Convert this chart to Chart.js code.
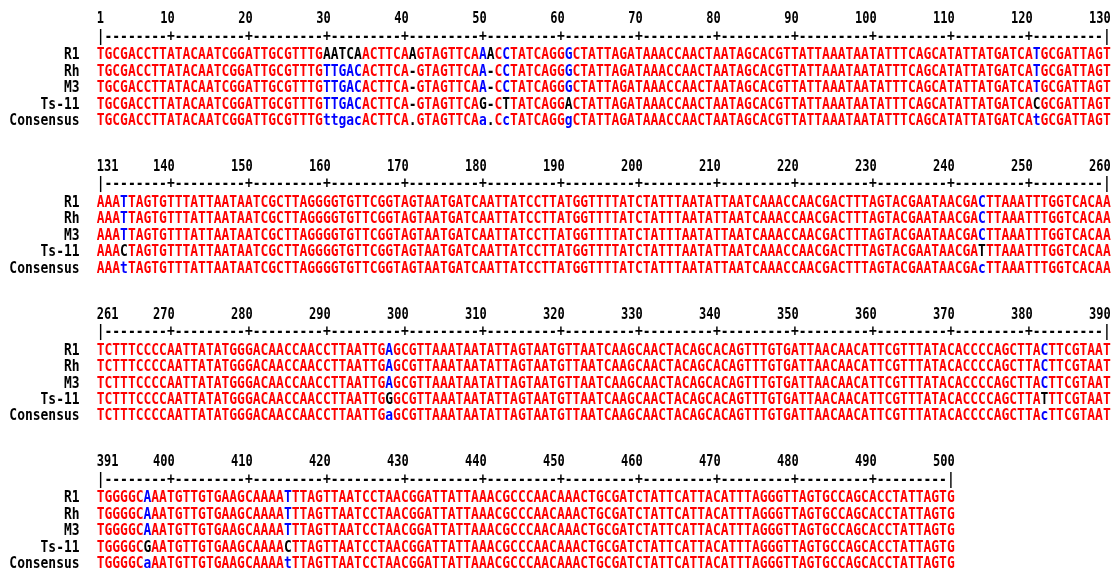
<!DOCTYPE html>
<html>
<head>
<meta charset="utf-8">
<script src="https://cdn.jsdelivr.net/npm/chart.js@4.4.0/dist/chart.umd.min.js"></script>
<style>
    body { margin: 0; background: #fff; }
    #wrap { width: 1120px; height: 580px; position: relative; }
</style>
</head>
<body>
<div id="wrap"><canvas id="alignChart"></canvas></div>
<script>
// Alignment blocks (first column number and length of each block)
const blockStart = [1, 131, 261, 391];
const blockLen = [130, 130, 130, 110];
const tickStep = 10;

const rowNames = ['R1', 'Rh', 'M3', 'Ts-11', 'Consensus'];

const seqR1 = [
    'TGCGACCTTATACAATCGGATTGCGTTTGAATCAACTTCAAGTAGTTCAAACCTATCAGGGCTATTAGATAAACCAACTAATAGCACGTTATTAAATAATATTTCAGCATATTATGATCATGCGATTAGT',
    'AAATTAGTGTTTATTAATAATCGCTTAGGGGTGTTCGGTAGTAATGATCAATTATCCTTATGGTTTTATCTATTTAATATTAATCAAACCAACGACTTTAGTACGAATAACGACTTAAATTTGGTCACAA',
    'TCTTTCCCCAATTATATGGGACAACCAACCTTAATTGAGCGTTAAATAATATTAGTAATGTTAATCAAGCAACTACAGCACAGTTTGTGATTAACAACATTCGTTTATACACCCCAGCTTACTTCGTAAT',
    'TGGGGCAAATGTTGTGAAGCAAAATTTAGTTAATCCTAACGGATTATTAAACGCCCAACAAACTGCGATCTATTCATTACATTTAGGGTTAGTGCCAGCACCTATTAGTG'
];
const seqRh = [
    'TGCGACCTTATACAATCGGATTGCGTTTGTTGACACTTCA-GTAGTTCAA-CCTATCAGGGCTATTAGATAAACCAACTAATAGCACGTTATTAAATAATATTTCAGCATATTATGATCATGCGATTAGT',
    'AAATTAGTGTTTATTAATAATCGCTTAGGGGTGTTCGGTAGTAATGATCAATTATCCTTATGGTTTTATCTATTTAATATTAATCAAACCAACGACTTTAGTACGAATAACGACTTAAATTTGGTCACAA',
    'TCTTTCCCCAATTATATGGGACAACCAACCTTAATTGAGCGTTAAATAATATTAGTAATGTTAATCAAGCAACTACAGCACAGTTTGTGATTAACAACATTCGTTTATACACCCCAGCTTACTTCGTAAT',
    'TGGGGCAAATGTTGTGAAGCAAAATTTAGTTAATCCTAACGGATTATTAAACGCCCAACAAACTGCGATCTATTCATTACATTTAGGGTTAGTGCCAGCACCTATTAGTG'
];
const seqM3 = [
    'TGCGACCTTATACAATCGGATTGCGTTTGTTGACACTTCA-GTAGTTCAA-CCTATCAGGGCTATTAGATAAACCAACTAATAGCACGTTATTAAATAATATTTCAGCATATTATGATCATGCGATTAGT',
    'AAATTAGTGTTTATTAATAATCGCTTAGGGGTGTTCGGTAGTAATGATCAATTATCCTTATGGTTTTATCTATTTAATATTAATCAAACCAACGACTTTAGTACGAATAACGACTTAAATTTGGTCACAA',
    'TCTTTCCCCAATTATATGGGACAACCAACCTTAATTGAGCGTTAAATAATATTAGTAATGTTAATCAAGCAACTACAGCACAGTTTGTGATTAACAACATTCGTTTATACACCCCAGCTTACTTCGTAAT',
    'TGGGGCAAATGTTGTGAAGCAAAATTTAGTTAATCCTAACGGATTATTAAACGCCCAACAAACTGCGATCTATTCATTACATTTAGGGTTAGTGCCAGCACCTATTAGTG'
];
const seqTs11 = [
    'TGCGACCTTATACAATCGGATTGCGTTTGTTGACACTTCA-GTAGTTCAG-CTTATCAGGACTATTAGATAAACCAACTAATAGCACGTTATTAAATAATATTTCAGCATATTATGATCACGCGATTAGT',
    'AAACTAGTGTTTATTAATAATCGCTTAGGGGTGTTCGGTAGTAATGATCAATTATCCTTATGGTTTTATCTATTTAATATTAATCAAACCAACGACTTTAGTACGAATAACGATTTAAATTTGGTCACAA',
    'TCTTTCCCCAATTATATGGGACAACCAACCTTAATTGGGCGTTAAATAATATTAGTAATGTTAATCAAGCAACTACAGCACAGTTTGTGATTAACAACATTCGTTTATACACCCCAGCTTATTTCGTAAT',
    'TGGGGCGAATGTTGTGAAGCAAAACTTAGTTAATCCTAACGGATTATTAAACGCCCAACAAACTGCGATCTATTCATTACATTTAGGGTTAGTGCCAGCACCTATTAGTG'
];
const seqConsensus = [
    'TGCGACCTTATACAATCGGATTGCGTTTGttgacACTTCA.GTAGTTCAa.CcTATCAGGgCTATTAGATAAACCAACTAATAGCACGTTATTAAATAATATTTCAGCATATTATGATCAtGCGATTAGT',
    'AAAtTAGTGTTTATTAATAATCGCTTAGGGGTGTTCGGTAGTAATGATCAATTATCCTTATGGTTTTATCTATTTAATATTAATCAAACCAACGACTTTAGTACGAATAACGAcTTAAATTTGGTCACAA',
    'TCTTTCCCCAATTATATGGGACAACCAACCTTAATTGaGCGTTAAATAATATTAGTAATGTTAATCAAGCAACTACAGCACAGTTTGTGATTAACAACATTCGTTTATACACCCCAGCTTAcTTCGTAAT',
    'TGGGGCaAATGTTGTGAAGCAAAAtTTAGTTAATCCTAACGGATTATTAAACGCCCAACAAACTGCGATCTATTCATTACATTTAGGGTTAGTGCCAGCACCTATTAGTG'
];

const sequences = [seqR1, seqRh, seqM3, seqTs11];

// Cores
const HIGH = '#FF0000';
const LOW = '#0000FF';
const NEUTRAL = '#000000';

// layout (in scale units)
const BLOCK_ROWS = 9;
const RULER_OFFSET = 1.05;
const SEQ_OFFSET = 2.2;
const LABEL_X = -1.7;

function corResiduo(ch, cons) {
    if (cons >= 'A' && cons <= 'Z') return ch === cons ? HIGH : NEUTRAL;
    if (cons >= 'a' && cons <= 'z') return ch.toUpperCase() === cons.toUpperCase() ? LOW : NEUTRAL;
    return NEUTRAL;
}

function corConsenso(cons) {
    if (cons >= 'A' && cons <= 'Z') return HIGH;
    if (cons >= 'a' && cons <= 'z') return LOW;
    return NEUTRAL;
}

function montarDatasets() {
    const datasets = [];

    blockStart.forEach((start, b) => {
        const base = b * BLOCK_ROWS;
        const len = blockLen[b];

        // numeros da regua
        const nums = [{ x: 0.5, y: base, t: String(start), align: 'left', color: NEUTRAL }];
        for (let c = 2; c <= len; c++) {
            const abs = start + c - 1;
            if (abs % tickStep === 0) nums.push({ x: c + 0.5, y: base, t: String(abs), align: 'right', color: NEUTRAL });
        }
        datasets.push({ kind: 'num', data: nums });

        // regua
        const ruler = [];
        for (let c = 1; c <= len; c++) {
            const abs = start + c - 1;
            let ch = '-';
            if (c === 1 || c === len) ch = '|';
            else if (abs % tickStep === 0) ch = '+';
            ruler.push({ x: c, y: base + RULER_OFFSET, t: ch, align: 'center', color: NEUTRAL });
        }
        datasets.push({ kind: 'seq', data: ruler });

        // sequencias
        const cons = seqConsensus[b];
        rowNames.forEach((name, r) => {
            const y = base + SEQ_OFFSET + r;
            const pts = [{ x: LABEL_X, y: y, t: name, align: 'right', color: NEUTRAL }];
            const seq = r < sequences.length ? sequences[r][b] : cons;
            for (let i = 0; i < seq.length; i++) {
                const color = r < sequences.length ? corResiduo(seq[i], cons[i]) : corConsenso(cons[i]);
                pts.push({ x: i + 1, y: y, t: seq[i], align: 'center', color: color });
            }
            datasets.push({ kind: 'seq', data: pts });
        });
    });

    return datasets.map(ds => ({
        kind: ds.kind,
        data: ds.data,
        pointRadius: 0,
        pointHoverRadius: 0,
        showLine: false
    }));
}

// desenha os caracteres nas posicoes dos pontos
const letrasPlugin = {
    id: 'letras',
    afterDatasetsDraw(chart) {
        const ctx = chart.ctx;
        ctx.save();
        chart.data.datasets.forEach((ds, i) => {
            const meta = chart.getDatasetMeta(i);
            const isNum = ds.kind === 'num';
            ctx.font = 'bold 16px "DejaVu Sans Mono"';
            const sx = isNum ? 0.75 : 0.81;
            ctx.textBaseline = 'alphabetic';
            meta.data.forEach((el, j) => {
                const p = ds.data[j];
                ctx.fillStyle = p.color;
                ctx.textAlign = p.align;
                ctx.save();
                ctx.translate(el.x, el.y + 5.8);
                ctx.scale(sx, 1);
                ctx.fillText(p.t, 0, 0);
                ctx.restore();
            });
        });
        ctx.restore();
    }
};

function renderizarAlinhamento() {
    const ctx = document.getElementById('alignChart').getContext('2d');
    new Chart(ctx, {
        type: 'scatter',
        data: { datasets: montarDatasets() },
        options: {
            responsive: true,
            maintainAspectRatio: false,
            animation: false,
            events: [],
            layout: { padding: 0 },
            scales: {
                x: { type: 'linear', min: -11.9, max: 131.69, display: false },
                y: { type: 'linear', min: -1.066, max: 34.28, reverse: true, display: false }
            },
            plugins: {
                legend: { display: false },
                tooltip: { enabled: false }
            }
        },
        plugins: [letrasPlugin]
    });
}

document.addEventListener('DOMContentLoaded', renderizarAlinhamento);
</script>
</body>
</html>
